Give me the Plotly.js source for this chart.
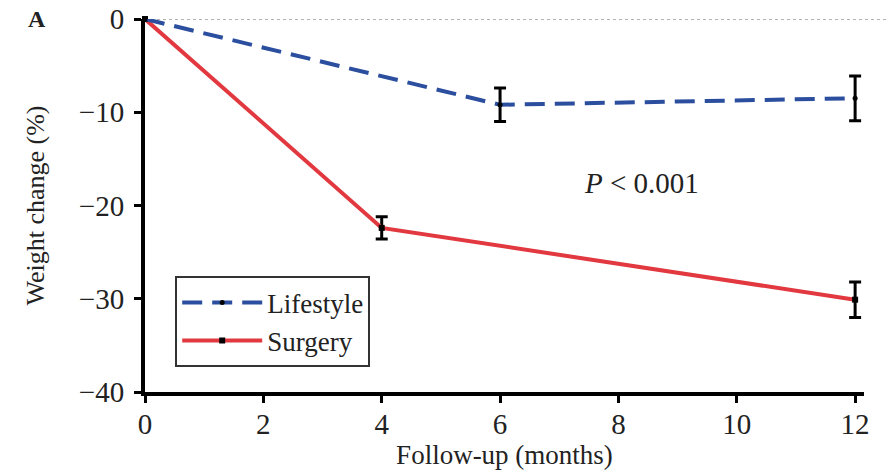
<!DOCTYPE html>
<html><head><meta charset="utf-8">
<script src="https://cdn.plot.ly/plotly-3.0.1.min.js"></script>
<style>body{margin:0;background:#fff}#c{width:889px;height:472px}</style>
</head><body><div id="c"></div>
<script>
const months_lifestyle = [0, 6, 12];
const lifestyle = [0, -9.2, -8.5];
const lifestyle_err = [0, 1.8, 2.4];
const months_surgery = [0, 4, 12];
const surgery = [0, -22.4, -30.1];
const surgery_err = [0, 1.2, 1.9];
const xticks = [0, 2, 4, 6, 8, 10, 12];
const yticks = [0, -10, -20, -30, -40];
const yticklabels = ['0', '\u221210', '\u221220', '\u221230', '\u221240'];

const serif = '"Times New Roman", "Liberation Serif", Times, serif';
const traces = [
  {x: months_surgery, y: surgery, name: 'Surgery', mode: 'lines+markers',
   line: {color: '#e2383f', width: 4},
   marker: {color: '#000', size: 6, symbol: 'square'},
   error_y: {type: 'data', array: surgery_err, color: '#000', thickness: 3, width: 6},
   cliponaxis: false},
  {x: months_lifestyle, y: lifestyle, name: 'Lifestyle', mode: 'lines+markers',
   line: {color: '#2b4f9e', width: 4, dash: '20px,10px'},
   marker: {color: '#000', size: 5, symbol: 'circle'},
   error_y: {type: 'data', array: lifestyle_err, color: '#000', thickness: 3, width: 6},
   cliponaxis: false}
];
const layout = {
  width: 889, height: 472,
  margin: {l: 145, r: 25, t: 19, b: 80},
  paper_bgcolor: '#fff', plot_bgcolor: '#fff',
  font: {family: serif, color: '#222', size: 26},
  showlegend: true,
  legend: {x: 0.042, y: 0.31, xanchor: 'left', yanchor: 'top', traceorder: 'reversed',
    bordercolor: '#333', borderwidth: 2, font: {family: serif, size: 27, color: '#222'},
    itemwidth: 80, tracegroupgap: 0},
  xaxis: {range: [0, 12.15], tickvals: xticks, ticktext: xticks.map(String),
    showgrid: false, zeroline: false, showline: true, linecolor: '#000', linewidth: 4,
    ticks: 'outside', ticklen: 7, tickwidth: 3, tickcolor: '#000', ticklabelstandoff: -4,
    tickfont: {family: serif, size: 29, color: '#222'},
    title: {text: 'Follow-up (months)', font: {family: serif, size: 27, color: '#222'}, standoff: 6}},
  yaxis: {range: [-40, 0], tickvals: yticks, ticktext: yticklabels,
    showgrid: false, zeroline: false, showline: true, linecolor: '#000', linewidth: 4,
    ticks: 'outside', ticklen: 7, tickwidth: 3, tickcolor: '#000', ticklabelstandoff: 4,
    tickfont: {family: serif, size: 29, color: '#222'},
    title: {text: 'Weight change (%)', font: {family: serif, size: 26, color: '#222'}, standoff: 28}},
  shapes: [{type: 'line', xref: 'paper', yref: 'y', x0: 0, x1: 1.04, y0: 0, y1: 0,
    line: {color: '#999', width: 1.5, dash: 'dot'}, layer: 'below'}],
  annotations: [
    {xref: 'x', yref: 'y', x: 7.38, y: -17.6, text: '<i>P</i> < 0.001', showarrow: false,
     xanchor: 'left', font: {family: serif, size: 29, color: '#222'}},
    {xref: 'paper', yref: 'paper', x: -0.165, y: 1.0, text: '<b>A</b>', showarrow: false,
     xanchor: 'left', yanchor: 'middle', font: {family: serif, size: 24, color: '#222'}}
  ]
};
Plotly.newPlot('c', traces, layout, {displayModeBar: false});
</script></body></html>
